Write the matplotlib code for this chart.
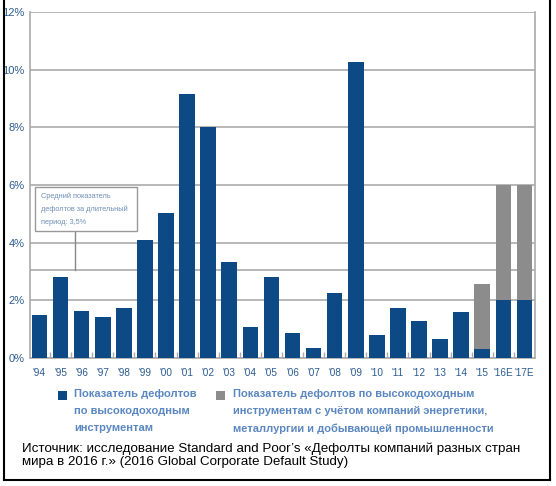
import numpy as np
import matplotlib.pyplot as plt
from matplotlib.lines import Line2D
from matplotlib.patches import Rectangle

years = ["'94", "'95", "'96", "'97", "'98", "'99", "'00", "'01", "'02", "'03",
         "'04", "'05", "'06", "'07", "'08", "'09", "'10", "'11", "'12", "'13",
         "'14", "'15", "'16E", "'17E"]
high_yield = [1.49, 2.80, 1.64, 1.43, 1.74, 4.09, 5.03, 9.16, 8.01, 3.32,
              1.09, 2.80, 0.88, 0.36, 2.25, 10.27, 0.79, 1.74, 1.27, 0.65,
              1.61, 0.30, 2.0, 2.0]
with_energy = [0, 0, 0, 0, 0, 0, 0, 0, 0, 0,
               0, 0, 0, 0, 0, 0, 0, 0, 0, 0,
               0, 2.56, 6.0, 6.0]
avg_line = 3.05
yticks = [0, 2, 4, 6, 8, 10, 12]

BLUE = "#0d4a85"
GRAY = "#8c8c8c"
TICK_COLOR = "#2b5a8f"
LEGEND_COLOR = "#5b87c0"
NARROW = ["Liberation Sans", "DejaVu Sans"]

fig = plt.figure(figsize=(5.56, 4.86), dpi=100)
ax = fig.add_axes([30 / 556, 1 - 358 / 486, 505 / 556, 346 / 486])

x = np.arange(len(years))
hy = np.array(high_yield)
we = np.array(with_energy)
extra = np.where(we > 0, we - hy, 0)
ax.bar(x, extra, bottom=hy, width=0.74, color=GRAY, zorder=3)
ax.bar(x, hy, width=0.74, color=BLUE, zorder=3)

ax.set_xlim(-0.45, len(years) - 0.5)
ax.set_ylim(0, 12)
ax.set_yticks(yticks)
ax.set_yticklabels([f"{v}%" for v in yticks], family=NARROW, fontsize=8, color=TICK_COLOR)
ax.set_xticks(x)
ax.set_xticklabels(years, family=NARROW, fontsize=7.2, color=TICK_COLOR)
ax.set_xticks(x[:-1] + 0.5, minor=True)
ax.tick_params(axis="both", which="major", length=0)
ax.tick_params(axis="y", pad=4)
ax.tick_params(axis="x", pad=7)
ax.tick_params(axis="x", which="minor", direction="in", length=4, color="#aaaaaa", width=1)

ax.grid(axis="y", color="#aaaaaa", linewidth=1.2, zorder=0)
ax.axhline(avg_line, color="#aaaaaa", linewidth=1.2, zorder=0)
for side in ["left", "right", "bottom"]:
    ax.spines[side].set_color("#aaaaaa")
    ax.spines[side].set_linewidth(1.2)
ax.spines["top"].set_visible(False)

# average annotation box
box_x0, box_x1 = 35 / 556, 137 / 556
box_y0, box_y1 = 1 - 231 / 486, 1 - 187 / 486
fig.patches.append(Rectangle((box_x0, box_y0), box_x1 - box_x0, box_y1 - box_y0,
                             transform=fig.transFigure, facecolor="white",
                             edgecolor="#999999", linewidth=1, zorder=5))
fig.lines.append(Line2D([75 / 556, 75 / 556], [box_y0, 1 - 270 / 486],
                        transform=fig.transFigure, color="#888888", linewidth=1))
fig.text(41 / 556, 1 - 209 / 486, "Средний показатель\nдефолтов за длительный\nпериод: 3,5%",
         family=NARROW, fontsize=5.3, color="#7090b8", va="center", ha="left",
         linespacing=2.1, zorder=6)

# legend
fig.patches.append(Rectangle((58 / 556, 1 - 400 / 486), 9 / 556, 9 / 486,
                             transform=fig.transFigure, facecolor=BLUE, edgecolor="none"))
fig.patches.append(Rectangle((216 / 556, 1 - 400 / 486), 9 / 556, 9 / 486,
                             transform=fig.transFigure, facecolor=GRAY, edgecolor="none"))
fig.text(74 / 556, 1 - 389 / 486, "Показатель дефолтов\nпо высокодоходным\nинструментам",
         family=NARROW, fontsize=8, fontweight="bold", color=LEGEND_COLOR,
         va="top", ha="left", linespacing=1.85)
fig.text(233 / 556, 1 - 389 / 486,
         "Показатель дефолтов по высокодоходным\nинструментам с учётом компаний энергетики,\nметаллургии и добывающей промышленности",
         family=NARROW, fontsize=8, fontweight="bold", color=LEGEND_COLOR,
         va="top", ha="left", linespacing=1.85)

# source
fig.text(22 / 556, 1 - 442 / 486,
         "Источник: исследование Standard and Poor’s «Дефолты компаний разных стран\nмира в 2016 г.» (2016 Global Corporate Default Study)",
         family=["Liberation Sans", "DejaVu Sans"], fontsize=9.6, color="black",
         va="top", ha="left", linespacing=1.13)

# black frame
for xs, ys in [([3.5, 3.5], [0, 480]), ([549.5, 549.5], [0, 480]), ([3.5, 549.5], [480, 480])]:
    fig.lines.append(Line2D([v / 556 for v in xs], [1 - v / 486 for v in ys],
                            transform=fig.transFigure, color="black", linewidth=1.5))

fig.savefig("out.png", dpi=100)
